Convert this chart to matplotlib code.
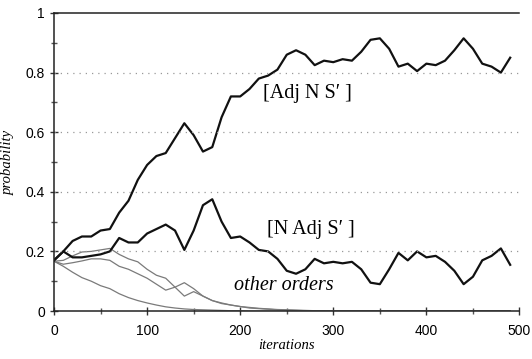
import matplotlib.pyplot as plt
from matplotlib.ticker import MultipleLocator, FuncFormatter

# iterations sampled every 10 steps
iterations = list(range(0, 500, 10))

adj_n_s = [0.17, 0.20, 0.235, 0.25, 0.25, 0.27, 0.275, 0.33, 0.37, 0.44,
           0.49, 0.52, 0.53, 0.58, 0.63, 0.59, 0.535, 0.55, 0.65, 0.72,
           0.72, 0.745, 0.78, 0.79, 0.81, 0.86, 0.875, 0.86, 0.825, 0.84,
           0.835, 0.845, 0.84, 0.87, 0.91, 0.915, 0.88, 0.82, 0.83, 0.805,
           0.83, 0.825, 0.84, 0.875, 0.915, 0.88, 0.83, 0.82, 0.80, 0.85]

n_adj_s = [0.17, 0.20, 0.18, 0.18, 0.185, 0.19, 0.20, 0.245, 0.23, 0.23,
           0.26, 0.275, 0.29, 0.27, 0.205, 0.27, 0.355, 0.375, 0.30, 0.245,
           0.25, 0.23, 0.205, 0.20, 0.175, 0.135, 0.125, 0.14, 0.175, 0.16,
           0.165, 0.16, 0.165, 0.14, 0.095, 0.09, 0.14, 0.195, 0.17, 0.20,
           0.18, 0.185, 0.165, 0.135, 0.09, 0.115, 0.17, 0.185, 0.21, 0.155]

other1 = [0.167, 0.15, 0.13, 0.112, 0.10, 0.085, 0.075, 0.058, 0.045, 0.035,
          0.027, 0.02, 0.014, 0.01, 0.007, 0.005, 0.004, 0.003, 0.002, 0.001,
          0.001] + [0.0] * 29

other2 = [0.167, 0.17, 0.185, 0.198, 0.20, 0.205, 0.21, 0.19, 0.175, 0.165,
          0.14, 0.12, 0.11, 0.08, 0.095, 0.075, 0.05, 0.035, 0.027, 0.02,
          0.015, 0.012, 0.009, 0.007, 0.005, 0.004, 0.003, 0.002, 0.001,
          0.001] + [0.0] * 20

other3 = [0.167, 0.157, 0.162, 0.168, 0.175, 0.175, 0.17, 0.15, 0.14, 0.125,
          0.11, 0.09, 0.07, 0.08, 0.05, 0.065, 0.05, 0.035, 0.025, 0.02,
          0.015, 0.01, 0.008, 0.006, 0.004, 0.003, 0.002, 0.001] + [0.0] * 22

fig = plt.figure(figsize=(5.32, 3.59), dpi=100)
ax = fig.add_axes([0.1015, 0.1337, 0.875, 0.8301])

for ys in (other1, other2, other3):
    ax.plot(iterations, ys, color='#7a7a7a', lw=0.9)
ax.plot(iterations, n_adj_s, color='#111111', lw=1.6)
ax.plot(iterations, adj_n_s, color='#111111', lw=1.6)

ax.set_xlim(0, 500)
ax.set_ylim(0, 1)
ax.yaxis.set_major_locator(MultipleLocator(0.2))
ax.yaxis.set_minor_locator(MultipleLocator(0.1))
ax.xaxis.set_major_locator(MultipleLocator(100))
ax.xaxis.set_minor_locator(MultipleLocator(50))
ax.yaxis.set_major_formatter(FuncFormatter(lambda v, p: f'{v:g}'))

for y in (0.2, 0.4, 0.6, 0.8):
    ax.axhline(y, color='#999999', lw=0.9, ls=(0, (1, 4)))

ax.spines['right'].set_visible(False)
for s in ('left', 'bottom', 'top'):
    ax.spines[s].set_color('#222222')
    ax.spines[s].set_linewidth(1.1)

ax.tick_params(which='major', direction='inout', length=6, width=1,
               labelsize=10, color='#333333')
ax.tick_params(which='minor', direction='inout', length=4, width=1,
               color='#555555')
ax.tick_params(axis='x', pad=6)
for lab in ax.get_xticklabels() + ax.get_yticklabels():
    lab.set_family('Liberation Sans')

ax.set_xlabel('iterations', family='Liberation Serif', style='italic',
              fontsize=10.5, labelpad=1)
ax.set_ylabel('probability', family='Liberation Serif', style='italic',
              fontsize=10.5, labelpad=8)

ax.text(225, 0.73, "[Adj N S\u2032 ]", family='Liberation Serif',
        fontsize=14.5, va='center', ha='left')
ax.text(229, 0.275, "[N Adj S\u2032 ]", family='Liberation Serif',
        fontsize=14.5, va='center', ha='left')
ax.text(193, 0.085, 'other orders', family='Liberation Serif',
        style='italic', fontsize=14.5, va='center', ha='left')

fig.savefig('out.png', dpi=100)
